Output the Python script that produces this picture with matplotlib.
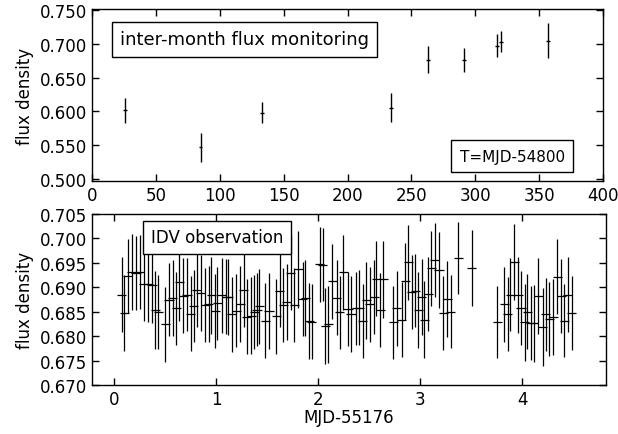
import matplotlib
matplotlib.use("Agg")
import matplotlib.pyplot as plt
from matplotlib.ticker import FormatStrFormatter

# ---- inter-month monitoring (T = MJD-54800) ----
mon_t = [26, 85, 133, 234, 263, 291, 317, 320, 357]
mon_f = [0.6015, 0.5464, 0.5980, 0.6055, 0.6768, 0.6762, 0.6975, 0.7035, 0.7050]
mon_err = [0.0185, 0.0210, 0.0160, 0.0210, 0.0205, 0.0180, 0.0170, 0.0160, 0.0260]

# ---- IDV observation (MJD-55176) ----
idv_t = [0.072, 0.095, 0.130, 0.172, 0.212, 0.248, 0.285, 0.330, 0.368, 0.400,
         0.428, 0.497, 0.535, 0.570, 0.605, 0.637, 0.673, 0.712, 0.746, 0.778,
         0.808, 0.845, 0.892, 0.925, 0.950, 0.988, 1.010, 1.053, 1.098, 1.118,
         1.151, 1.195, 1.233, 1.268, 1.298, 1.340, 1.373, 1.398, 1.422, 1.478,
         1.515, 1.585, 1.620, 1.657, 1.690, 1.727, 1.765, 1.804, 1.845, 1.870,
         1.910, 1.935, 2.012, 2.043, 2.066, 2.098, 2.135, 2.180, 2.208, 2.245,
         2.290, 2.319, 2.370, 2.402, 2.436, 2.470, 2.503, 2.548, 2.567, 2.605,
         2.635, 2.736, 2.769, 2.815, 2.850, 2.883, 2.915, 2.951, 2.981, 3.014,
         3.040, 3.079, 3.105, 3.140, 3.183, 3.226, 3.262, 3.298, 3.370, 3.503,
         3.755, 3.822, 3.855, 3.880, 3.920, 3.961, 3.986, 4.022, 4.050, 4.080,
         4.110, 4.157, 4.198, 4.230, 4.265, 4.305, 4.343, 4.380, 4.410, 4.445, 4.484]
idv_f = [0.6885, 0.6848, 0.6923, 0.6932, 0.6930, 0.6931, 0.6907, 0.6907, 0.6904, 0.6853,
         0.6849, 0.6824, 0.6875, 0.6878, 0.6857, 0.6910, 0.6883, 0.6885, 0.6846, 0.6862,
         0.6895, 0.6889, 0.6864, 0.6866, 0.6884, 0.6852, 0.6867, 0.6884, 0.6881, 0.6880,
         0.6845, 0.6852, 0.6866, 0.6894, 0.6840, 0.6842, 0.6849, 0.6854, 0.6861, 0.6832,
         0.6851, 0.6841, 0.6893, 0.6864, 0.6870, 0.6930, 0.6864, 0.6937, 0.6876, 0.6878,
         0.6831, 0.6830, 0.6947, 0.6946, 0.6821, 0.6824, 0.6912, 0.6879, 0.6849, 0.6931,
         0.6855, 0.6845, 0.6857, 0.6858, 0.6831, 0.6873, 0.6865, 0.6880, 0.6918, 0.6853,
         0.6916, 0.6828, 0.6857, 0.6834, 0.6912, 0.6951, 0.6890, 0.6893, 0.6854, 0.6880,
         0.6834, 0.6886, 0.6939, 0.6956, 0.6936, 0.6848, 0.6876, 0.6850, 0.6960, 0.6940,
         0.6829, 0.6865, 0.6845, 0.6885, 0.6952, 0.6885, 0.6858, 0.6828, 0.6850, 0.6827,
         0.6826, 0.6882, 0.6819, 0.6845, 0.6835, 0.6840, 0.6922, 0.6882, 0.6832, 0.6885, 0.6847]
idv_err = [0.0077, 0.0078, 0.0076, 0.0078, 0.0076, 0.0076, 0.0075, 0.0078, 0.0077, 0.0080,
           0.0076, 0.0076, 0.0074, 0.0077, 0.0075, 0.0078, 0.0076, 0.0075, 0.0077, 0.0074,
           0.0076, 0.0078, 0.0075, 0.0077, 0.0079, 0.0076, 0.0075, 0.0077, 0.0076, 0.0078,
           0.0077, 0.0075, 0.0078, 0.0076, 0.0077, 0.0079, 0.0076, 0.0075, 0.0077, 0.0076,
           0.0078, 0.0077, 0.0075, 0.0076, 0.0078, 0.0077, 0.0076, 0.0079, 0.0075, 0.0077,
           0.0078, 0.0076, 0.0077, 0.0075, 0.0078, 0.0079, 0.0076, 0.0077, 0.0075, 0.0077,
           0.0076, 0.0078, 0.0075, 0.0077, 0.0076, 0.0078, 0.0076, 0.0075, 0.0077, 0.0076,
           0.0078, 0.0075, 0.0077, 0.0076, 0.0079, 0.0077, 0.0076, 0.0075, 0.0078, 0.0077,
           0.0079, 0.0076, 0.0077, 0.0075, 0.0078, 0.0076, 0.0077, 0.0075, 0.0074, 0.0078,
           0.0074, 0.0077, 0.0076, 0.0075, 0.0077, 0.0078, 0.0076, 0.0079, 0.0077, 0.0076,
           0.0078, 0.0077, 0.0080, 0.0075, 0.0076, 0.0078, 0.0077, 0.0076, 0.0075, 0.0077, 0.0076]

top_xticks = [0, 50, 100, 150, 200, 250, 300, 350, 400]
top_yticks = [0.500, 0.550, 0.600, 0.650, 0.700, 0.750]
bot_xticks = [0, 1, 2, 3, 4]
bot_yticks = [0.670, 0.675, 0.680, 0.685, 0.690, 0.695, 0.700, 0.705]

plt.rcParams['font.family'] = 'DejaVu Sans'
plt.rcParams['font.size'] = 12
plt.rcParams['axes.linewidth'] = 1.0

fig = plt.figure(figsize=(6.18, 4.35), dpi=100)
ax1 = fig.add_axes([0.1489, 0.5816, 0.8269, 0.3954])
ax2 = fig.add_axes([0.1489, 0.1126, 0.8317, 0.3931])

def box(pad):
    return dict(boxstyle='square,pad=%s' % pad, facecolor='white',
                edgecolor='black', linewidth=1.0)

# top panel
ax1.errorbar(mon_t, mon_f, yerr=mon_err, xerr=1.4, fmt='none',
             ecolor='black', elinewidth=1.0, capsize=0)
ax1.set_xlim(0, 400)
ax1.set_ylim(0.4965, 0.752)
ax1.set_xticks(top_xticks)
ax1.set_yticks(top_yticks)
ax1.yaxis.set_major_formatter(FormatStrFormatter('%.3f'))
ax1.set_ylabel('flux density', fontsize=12)
ax1.text(0.299, 0.823, 'inter-month flux monitoring', transform=ax1.transAxes,
         ha='center', va='center', fontsize=13, bbox=box(0.45), zorder=5)
ax1.text(0.822, 0.145, 'T=MJD-54800', transform=ax1.transAxes,
         ha='center', va='center', fontsize=11, bbox=box(0.55), zorder=5)

# bottom panel
ax2.errorbar(idv_t, idv_f, yerr=idv_err, xerr=0.045, fmt='none',
             ecolor='black', elinewidth=0.9, capsize=0)
ax2.set_xlim(-0.22, 4.82)
ax2.set_ylim(0.670, 0.705)
ax2.set_xticks(bot_xticks)
ax2.set_yticks(bot_yticks)
ax2.yaxis.set_major_formatter(FormatStrFormatter('%.3f'))
ax2.set_ylabel('flux density', fontsize=12)
ax2.set_xlabel('MJD-55176', fontsize=12, labelpad=0)
ax2.text(0.243, 0.863, 'IDV observation', transform=ax2.transAxes,
         ha='center', va='center', fontsize=12, bbox=box(0.45), zorder=5)

for ax in (ax1, ax2):
    ax.tick_params(direction='in', top=True, right=True, length=5, width=1.0, labelsize=12)

fig.savefig('out.png', dpi=100)
